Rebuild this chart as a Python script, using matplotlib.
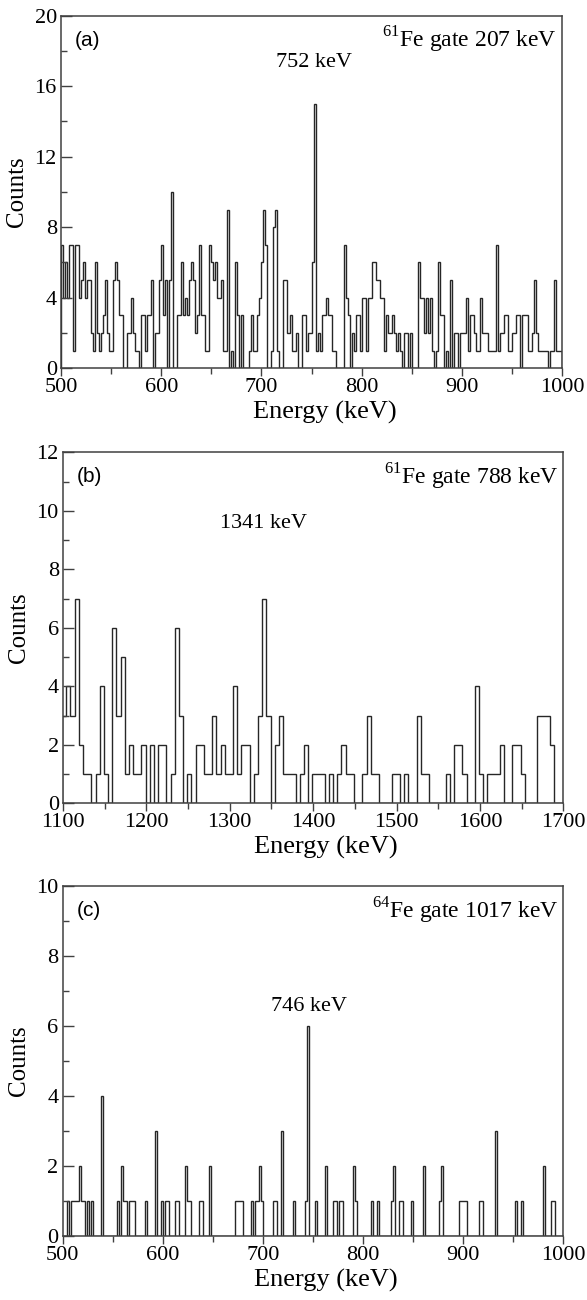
import numpy as np
import matplotlib.pyplot as plt

plt.rcParams['font.family'] = ['Liberation Serif', 'DejaVu Serif']
plt.rcParams['mathtext.fontset'] = 'custom'
plt.rcParams['mathtext.rm'] = 'Liberation Serif'

# (a) 61Fe gate 207 keV, 2 keV bins from 500 keV
a_start, a_width = 500, 2
a_counts = [
    7, 4, 6, 4, 7, 7, 1, 7, 7, 4,
    5, 6, 4, 5, 5, 2, 1, 6, 2, 1,
    2, 3, 5, 2, 1, 1, 5, 6, 5, 3,
    3, 0, 0, 2, 2, 4, 2, 1, 1, 0,
    3, 3, 1, 3, 3, 5, 0, 2, 2, 5,
    7, 3, 5, 0, 5, 10, 0, 0, 3, 3,
    6, 3, 4, 3, 5, 6, 5, 2, 3, 7,
    3, 3, 1, 1, 7, 6, 5, 6, 4, 4,
    5, 1, 1, 9, 0, 1, 0, 6, 3, 0,
    3, 0, 0, 0, 1, 3, 1, 1, 3, 4,
    6, 9, 7, 0, 0, 1, 8, 9, 1, 0,
    0, 5, 5, 2, 3, 1, 1, 2, 0, 0,
    3, 3, 1, 2, 2, 6, 15, 1, 2, 1,
    3, 3, 4, 3, 3, 1, 1, 0, 0, 0,
    0, 7, 4, 3, 0, 2, 1, 3, 3, 1,
    4, 4, 1, 4, 4, 6, 6, 5, 5, 4,
    4, 1, 3, 2, 2, 3, 2, 1, 2, 1,
    0, 2, 2, 0, 2, 0, 0, 0, 6, 4,
    4, 2, 4, 2, 4, 1, 0, 1, 6, 3,
    3, 0, 1, 0, 5, 0, 2, 2, 0, 2,
    2, 2, 4, 1, 3, 3, 2, 1, 1, 4,
    2, 2, 2, 1, 1, 1, 1, 7, 1, 2,
    2, 3, 3, 1, 1, 2, 2, 3, 3, 0,
    3, 3, 3, 1, 1, 2, 5, 2, 1, 1,
    1, 1, 1, 0, 1, 1, 5, 1, 1, 1,
]

# (b) 61Fe gate 788 keV, 5 keV bins from 1099 keV
b_start, b_width = 1099, 5
b_counts = [
    3, 4, 3, 7, 2, 1, 1, 0, 1, 4,
    1, 0, 6, 3, 5, 1, 2, 1, 1, 2,
    0, 2, 0, 2, 2, 0, 1, 6, 3, 0,
    1, 0, 2, 2, 1, 1, 3, 1, 2, 1,
    1, 4, 1, 2, 2, 0, 1, 3, 7, 3,
    0, 2, 3, 1, 1, 1, 0, 1, 2, 0,
    1, 1, 1, 0, 1, 0, 1, 2, 1, 1,
    0, 0, 1, 3, 1, 1, 0, 0, 0, 1,
    1, 0, 1, 0, 0, 3, 1, 1, 0, 0,
    0, 0, 1, 0, 2, 2, 1, 0, 0, 4,
    1, 0, 1, 1, 1, 2, 0, 0, 2, 2,
    1, 0, 0, 0, 3, 3, 3, 2, 0, 0, 0,
]

# (c) 64Fe gate 1017 keV, 2 keV bins from 500 keV
c_start, c_width = 500, 2
c_counts = [
    0, 0, 1, 0, 1, 1, 1, 1, 2, 1,
    1, 0, 1, 0, 1, 0, 0, 0, 0, 4,
    0, 0, 0, 0, 0, 0, 0, 1, 0, 2,
    1, 1, 0, 1, 1, 1, 0, 0, 0, 0,
    0, 1, 0, 0, 0, 0, 3, 0, 0, 1,
    0, 1, 1, 0, 0, 0, 1, 1, 0, 0,
    0, 2, 1, 1, 0, 0, 0, 0, 1, 1,
    0, 0, 0, 2, 0, 0, 0, 0, 0, 0,
    0, 0, 0, 0, 0, 0, 1, 1, 1, 1,
    0, 0, 0, 0, 1, 0, 1, 1, 2, 1,
    0, 0, 0, 0, 0, 1, 1, 0, 0, 3,
    0, 0, 0, 0, 0, 1, 0, 0, 0, 0,
    0, 1, 6, 0, 0, 0, 1, 0, 0, 0,
    0, 2, 0, 0, 0, 1, 1, 0, 1, 1,
    0, 0, 0, 0, 0, 2, 1, 0, 0, 0,
    0, 0, 0, 0, 1, 0, 0, 1, 0, 0,
    0, 0, 0, 0, 1, 2, 0, 0, 1, 1,
    0, 0, 0, 0, 1, 0, 0, 0, 0, 0,
    2, 0, 0, 0, 0, 0, 0, 0, 1, 2,
    0, 0, 0, 0, 0, 0, 0, 0, 1, 1,
    1, 1, 0, 0, 0, 0, 0, 0, 1, 1,
    0, 0, 0, 0, 0, 0, 3, 0, 0, 0,
    0, 0, 0, 0, 0, 0, 1, 0, 0, 1,
    0, 0, 0, 0, 0, 0, 0, 0, 0, 0,
    2, 0, 0, 0, 1, 1, 0, 0, 0, 0,
]

panels = [
    dict(start=a_start, width=a_width, counts=a_counts, xlim=(500, 1000), ylim=(0, 20),
         xmaj=100, xmin=50, ymaj=4, tag='(a)', gate=r'$^{61}$Fe gate 207 keV',
         peak=752, peak_y=16.8, peak_txt='752 keV'),
    dict(start=b_start, width=b_width, counts=b_counts, xlim=(1100, 1700), ylim=(0, 12),
         xmaj=100, xmin=50, ymaj=2, tag='(b)', gate=r'$^{61}$Fe gate 788 keV',
         peak=1341, peak_y=9.25, peak_txt='1341 keV'),
    dict(start=c_start, width=c_width, counts=c_counts, xlim=(500, 1000), ylim=(0, 10),
         xmaj=100, xmin=50, ymaj=2, tag='(c)', gate=r'$^{64}$Fe gate 1017 keV',
         peak=746, peak_y=6.3, peak_txt='746 keV'),
]

fig = plt.figure(figsize=(5.87, 13.0), dpi=100)
rects = [
    [0.1039, 0.7167, 0.8537, 0.2713],
    [0.1073, 0.3821, 0.8523, 0.2700],
    [0.1068, 0.0492, 0.8528, 0.2692],
]

spine_col = '#404040'
for p, r in zip(panels, rects):
    ax = fig.add_axes(r)
    cnt = np.array(p['counts'])
    edges = p['start'] + p['width'] * np.arange(len(cnt) + 1)
    ax.stairs(cnt, edges, color='#262626', lw=1.0)

    ax.set_xlim(*p['xlim'])
    ax.set_ylim(*p['ylim'])
    ax.set_xticks(np.arange(p['xlim'][0], p['xlim'][1] + 1, p['xmaj']))
    ax.set_xticks(np.arange(p['xlim'][0], p['xlim'][1] + 1, p['xmin']), minor=True)
    ax.set_yticks(np.arange(0, p['ylim'][1] + 1, p['ymaj']))
    ax.set_yticks(np.arange(0, p['ylim'][1] + 1, p['ymaj'] / 2), minor=True)
    ax.tick_params(axis='x', which='major', direction='out', length=6, width=1,
                   color=spine_col, labelsize=16, pad=1)
    ax.tick_params(axis='x', which='minor', direction='out', length=4, width=1,
                   color=spine_col)
    ax.tick_params(axis='y', which='major', direction='in', length=8, width=1,
                   color=spine_col, labelsize=16, pad=3)
    ax.tick_params(axis='y', which='minor', direction='in', length=4, width=1,
                   color=spine_col)
    for s in ax.spines.values():
        s.set_color(spine_col)
        s.set_linewidth(1.1)

    ax.set_xlabel('Energy (keV)', fontsize=19)
    ax.set_ylabel('Counts', fontsize=18)
    ax.xaxis.set_label_coords(0.526, -0.093)
    ax.yaxis.set_label_coords(-0.066, 0.5)

    ax.text(0.028, 0.93, p['tag'], transform=ax.transAxes, ha='left', va='center',
            fontsize=15, family=['Liberation Sans', 'DejaVu Sans'])
    ax.text(0.99, 0.93, p['gate'], transform=ax.transAxes, ha='right', va='center',
            fontsize=17)
    ax.text(p['peak'], p['peak_y'], p['peak_txt'], ha='center', va='bottom', fontsize=16)

fig.savefig('out.png', dpi=100)
